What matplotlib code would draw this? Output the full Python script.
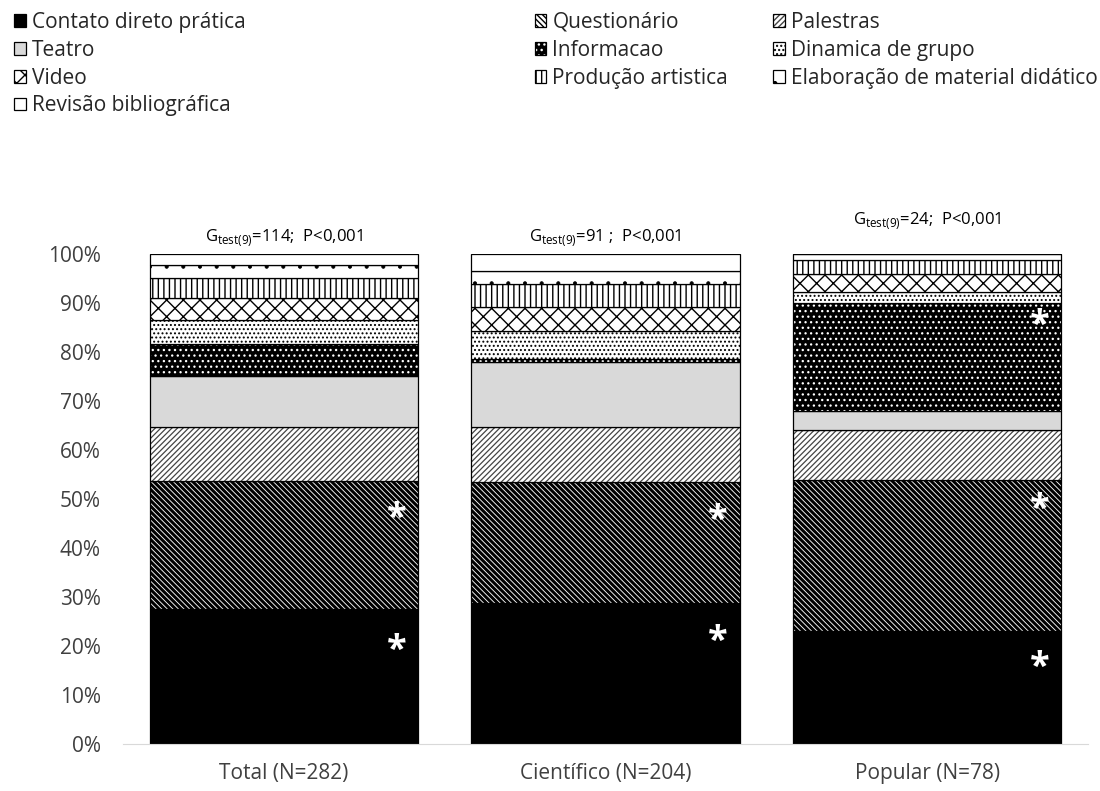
import numpy as np
import matplotlib as mpl
import matplotlib.pyplot as plt
from matplotlib.patches import Patch
from matplotlib.ticker import PercentFormatter

plt.rcParams.update({
    "font.family": ["Open Sans", "DejaVu Sans"],
    "mathtext.fontset": "custom",
    "mathtext.rm": "Open Sans",
    "hatch.linewidth": 1.0,
})

# Share (%) of each educational method per sample group
groups = ["Total (N=282)", "Científico (N=204)", "Popular (N=78)"]
methods = ["Contato direto prática", "Questionário", "Palestras", "Teatro",
           "Informacao", "Dinamica de grupo", "Video", "Produção artistica",
           "Elaboração de material didático", "Revisão bibliográfica"]
contato = [27.5, 28.8, 23.1]
questionario = [26.2, 24.7, 30.8]
palestras = [11.0, 11.2, 10.2]
teatro = [10.4, 13.3, 3.8]
informacao = [6.6, 0.6, 22.2]
dinamica = [4.8, 5.7, 2.2]
video = [4.6, 4.9, 3.7]
producao = [4.0, 4.7, 2.8]
elaboracao = [2.6, 2.6, 1.2]
revisao = [2.3, 3.5, 0.0]
shares = [contato, questionario, palestras, teatro, informacao,
          dinamica, video, producao, elaboracao, revisao]

# G-test results shown above each bar
g_stat = ["114", "91 ", "24"]
p_text = ["P<0,001", "P<0,001", "P<0,001"]

# significant categories (group index, method index)
signif = [(0, 0), (0, 1), (1, 0), (1, 1), (2, 0), (2, 1), (2, 4)]
star_drop = [0.086, 0.078, 0.080, 0.080, 0.076, 0.061, 0.047]

# face colour, hatch colour, hatch, hatch line width
styles = [
    ("black", "black", None, 1.0),
    ("white", "black", "\\" * 6, 2.2),
    ("white", "#444444", "/" * 6, 0.9),
    ("#d9d9d9", "black", None, 1.0),
    ("black", "white", "...", 0.9),
    ("white", "black", "....", 0.9),
    ("white", "black", "xx", 1.0),
    ("white", "black", "|||", 1.0),
    ("white", "black", ".", 0.5),
    ("white", "black", None, 1.0),
]

fig = plt.figure(figsize=(11, 7.91), dpi=100)
ax = fig.add_axes([0.112, 0.0594, 0.877, 0.6195])

x = np.arange(len(groups))
width = 0.834
bottom = np.zeros(len(groups))
tops = []
handles = []
for name, vals, (fc, hc, hatch, hlw) in zip(methods, shares, styles):
    vals = np.array(vals) / 100
    with mpl.rc_context({"hatch.linewidth": hlw}):
        ax.bar(x, vals, width, bottom=bottom, facecolor=fc, edgecolor=hc,
               hatch=hatch, linewidth=0)
        fill = Patch(facecolor=fc, edgecolor=hc, hatch=hatch, linewidth=0)
    ax.bar(x, vals, width, bottom=bottom, facecolor="none",
           edgecolor="black", linewidth=0.9)
    bottom = bottom + vals
    tops.append(bottom.copy())
    handles.append((fill, Patch(facecolor="none", edgecolor="black", linewidth=0.9)))

for (g, m), drop in zip(signif, star_drop):
    ax.text(x[g] + 0.35, tops[m][g] - drop, "*", color="white", fontsize=26,
            fontweight="bold", ha="center", va="center")

g_y = [1.027, 1.027, 1.062]
for i in range(len(groups)):
    ax.text(x[i], g_y[i], r"G$_{\mathrm{test(9)}}$=" + g_stat[i] + ";  " + p_text[i],
            ha="center", va="baseline", fontsize=12)

ax.set_xlim(-0.5, 2.5)
ax.set_ylim(0, 1)
ax.set_yticks(np.arange(0, 1.01, 0.1))
ax.yaxis.set_major_formatter(PercentFormatter(1, decimals=0))
ax.set_xticks(x)
ax.set_xticklabels(groups)
ax.tick_params(axis="y", length=0, labelsize=15, pad=16, colors="#404040")
ax.tick_params(axis="x", length=0, labelsize=15, pad=14, colors="#404040")
for s in ["top", "right", "left"]:
    ax.spines[s].set_visible(False)
ax.spines["bottom"].set_color("#d9d9d9")

# legend laid out in three columns, filled row by row
cols = [[0, 3, 6, 9], [1, 4, 7], [2, 5, 8]]
col_x = [0.013, 0.486, 0.703]
for cx, idx in zip(col_x, cols):
    fig.legend([handles[i] for i in idx], [methods[i] for i in idx],
               loc="upper left", bbox_to_anchor=(cx, 0.985), frameon=False,
               fontsize=15, handlelength=0.55, handleheight=0.55,
               handletextpad=0.3, labelspacing=0.33, borderpad=0,
               borderaxespad=0, labelcolor="#262626")

fig.savefig("out.png", dpi=100)
